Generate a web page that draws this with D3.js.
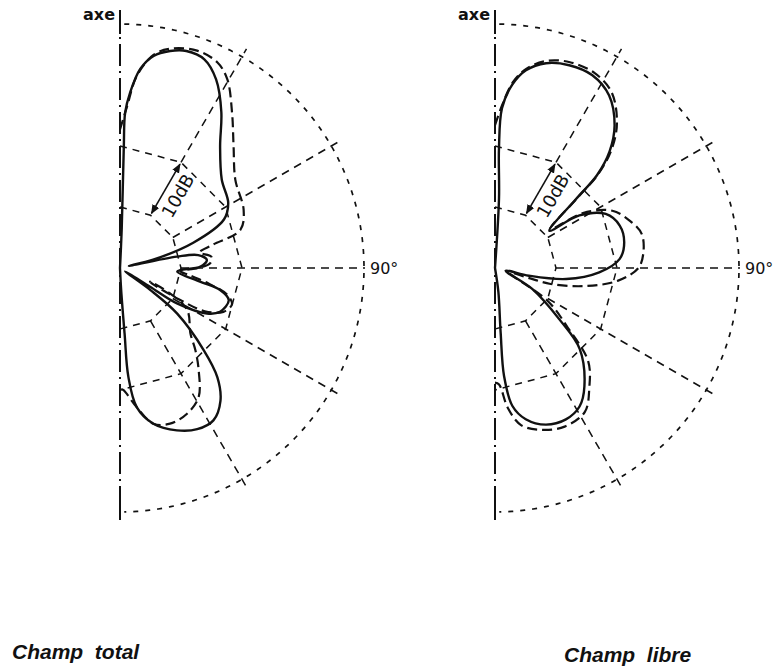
<!DOCTYPE html>
<meta charset="utf-8">
<script src="https://d3js.org/d3.v7.min.js"></script>
<style>body{margin:0;background:#fff}</style>
<svg width="781" height="667"></svg>
<script>

    // grid levels (dB), spokes (degrees from the axis)
    const gridLevels = [-30, -20, 0]
    const spokeAngles = [30, 60, 90, 120, 150]
    const titles = ["Champ total", "Champ libre"]

    // Champ total, solid curve
    const totalSolidAngle = [0, 2.5, 1.8, 1.9, 3.3, 5.8, 9, 13, 17, 22, 27, 33, 39.5, 49, 59, 65, 71, 76, 77,
        78.7, 80.6, 84.7, 89, 92, 93.7, 99.7, 102.4, 106.5, 113.6, 117.6, 121.9, 122, 124,
        126, 128.6, 134.5, 138.3, 142.9, 148.5, 154.4, 160.7, 167.9, 173.1, 175.6, 176, 177, 180]
    const totalSolidDb = [-40, -33.4, -20.2, -14.5, -11.2, -7.2, -4.8, -3.5, -2.8, -3.1, -5.3, -9.5, -14.2, -17.9, -19.3, -21.2, -27.3, -34.4, -38.5,
        -30.5, -27, -25.7, -26.8, -30.1, -30.6, -26.7, -23.2, -21.4, -22.1, -23.9, -29, -34.2, -39,
        -33.9, -28, -20.7, -16, -12.7, -10.7, -10.7, -11.8, -13.9, -17, -22.1, -29.2, -36.4, -40]

    // Champ total, dashed curve
    const totalDashedAngle = [0, 2.5, 5, 9, 13, 19.5, 25.3, 29.6, 35.8, 43, 52.6, 64.8, 72.4, 76, 79,
        83, 87, 90, 93, 96, 100, 104, 108, 113, 117, 118, 116,
        114.5, 117, 122, 133, 137.5, 142.5, 148.7, 155.3, 162.2, 167.9, 173.1, 178.5, 180]
    const totalDashedDb = [-17.3, -13.5, -8.4, -4.6, -3.1, -2.2, -2.7, -4.4, -8.6, -12.7, -16.2, -17.6, -19.3, -24.4, -26.7,
        -24.9, -25.2, -27.2, -30.1, -28.5, -25.2, -21.9, -20.7, -21.6, -24.4, -29, -34,
        -34.6, -30.8, -27, -24.2, -21.7, -18.8, -15.2, -13.7, -13.2, -13.9, -17, -20, -20.2]

    // Champ libre, solid curve
    const libreSolidAngle = [0, 3.3, 1.9, 2.5, 5.3, 8.9, 14, 20.1, 26.8, 33.5, 40, 44.5, 47.7, 49.6, 55.6,
        58.1, 64, 71.2, 78.7, 85.8, 92.4, 98.8, 102.8, 104,
        119.4, 128.6, 133.7, 142.9, 148.6, 154.9, 162, 168.5, 172.8, 175.2, 175, 172, 180]
    const libreSolidDb = [-40, -28.6, -20.4, -13.8, -9.9, -7.2, -5.4, -4.6, -4.6, -6.1, -9.5, -13.2, -17.4, -22.6, -29.2,
        -23.7, -19.8, -18.4, -18.4, -19.5, -22.9, -28.2, -34.3, -38.2,
        -33, -26.5, -20.8, -15.7, -13.4, -12.6, -13, -14.7, -17.2, -22.2, -29.4, -36, -40]

    // Champ libre, dashed curve
    const libreDashedAngle = [0, 2.5, 5.5, 9, 14, 20, 27, 33.5, 40, 44.5, 47.7, 49.6, 55,
        58, 64, 71, 77, 84.7, 90, 96, 101.4, 106, 106.5, 108,
        122, 129.4, 135, 141.8, 148, 156.3, 164, 170.6, 174.8, 178, 180]
    const libreDashedDb = [-16.6, -13.3, -9.4, -6.9, -5, -4.1, -4.1, -5.4, -8.9, -12.7, -17.1, -22.2, -29,
        -23, -18.6, -16.5, -15.3, -15.6, -16.5, -19.8, -25, -30.5, -34.4, -37.5,
        -29.8, -24.5, -18.4, -15, -12.2, -11.6, -12.4, -13.9, -17, -20.9, -21.2]

    const ink = '#111'
    const rad = a => a * Math.PI / 180

    const r = d3.scaleLinear()
        .domain([-40, 0])
        .range([0, 244])

    const svg = d3.select('svg')

    svg.append('defs').append('marker')
        .attr('id', 'head')
        .attr('viewBox', '0 0 10 10')
        .attr('refX', 9).attr('refY', 5)
        .attr('markerWidth', 6).attr('markerHeight', 6)
        .attr('orient', 'auto-start-reverse')
        .append('path')
        .attr('d', 'M0,1 L10,5 L0,9 Z')
        .attr('fill', ink)

    function zip(angles, dbs) {
        return angles.map((a, i) => ({angle: a, db: dbs[i]}))
    }

    function polarPanel(cx, cy, solid, dashed) {
        const g = svg.append('g')
            .attr('transform', 'translate(' + cx + ',' + cy + ')')

        // axis
        g.append('line')
            .attr('x1', 0).attr('x2', 0)
            .attr('y1', -r(0) - 14).attr('y2', r(0) + 4)
            .attr('stroke', ink).attr('stroke-width', 2)
            .attr('stroke-dasharray', '22,5,2,5')
        g.append('line')
            .attr('x1', 0).attr('x2', 0)
            .attr('y1', -r(0) - 14).attr('y2', -r(0) + 10)
            .attr('stroke', ink).attr('stroke-width', 2)
        g.append('line')
            .attr('x1', 0).attr('x2', 0)
            .attr('y1', r(0) - 18).attr('y2', r(0) + 8)
            .attr('stroke', ink).attr('stroke-width', 2)

        g.append('text')
            .attr('x', -5).attr('y', -r(0) - 4)
            .attr('text-anchor', 'end')
            .style('font-family', 'DejaVu Sans').style('font-weight', 'bold').style('font-size', '16px')
            .attr('fill', ink)
            .text('axe')

        // inner rings, drawn as chords between the spokes
        const chord = d3.range(0, 181, 30)
        gridLevels.filter(lv => lv < 0).forEach(lv => {
            g.append('path')
                .attr('d', d3.lineRadial().angle(a => rad(a)).radius(() => r(lv))(chord))
                .attr('fill', 'none').attr('stroke', ink).attr('stroke-width', 1.5)
                .attr('stroke-dasharray', '7,6')
        })

        // outer ring
        g.append('path')
            .attr('d', d3.lineRadial().angle(a => rad(a)).radius(r(0))(d3.range(1, 180, 1)))
            .attr('fill', 'none').attr('stroke', ink).attr('stroke-width', 1.7)
            .attr('stroke-dasharray', '5,7')

        // spokes
        spokeAngles.forEach(a => {
            const r0 = a === 30 ? r(-20) : r(-30)
            const r1 = a === 90 ? r(0) + 1 : r(0) + 9
            g.append('line')
                .attr('x1', r0 * Math.sin(rad(a))).attr('y1', -r0 * Math.cos(rad(a)))
                .attr('x2', r1 * Math.sin(rad(a))).attr('y2', -r1 * Math.cos(rad(a)))
                .attr('stroke', ink).attr('stroke-width', 1.5)
                .attr('stroke-dasharray', '8,6')
        })

        g.append('text')
            .attr('x', r(0) + 6).attr('y', 6)
            .style('font-family', 'DejaVu Sans').style('font-size', '16px')
            .attr('fill', ink)
            .text('90°')

        // 10 dB arrow along the 30 degree spoke
        const a30 = rad(30)
        g.append('line')
            .attr('x1', (r(-30) + 2) * Math.sin(a30)).attr('y1', -(r(-30) + 2) * Math.cos(a30))
            .attr('x2', (r(-20) - 2) * Math.sin(a30)).attr('y2', -(r(-20) - 2) * Math.cos(a30))
            .attr('stroke', ink).attr('stroke-width', 1.6)
            .attr('marker-start', 'url(#head)').attr('marker-end', 'url(#head)')

        const mid = r(-25)
        g.append('text')
            .attr('transform', 'translate(' + (mid * Math.sin(a30) + 14 * Math.cos(a30)) + ',' +
                (-mid * Math.cos(a30) + 14 * Math.sin(a30)) + ') rotate(-60)')
            .attr('text-anchor', 'middle').attr('dy', '0.35em')
            .style('font-family', 'DejaVu Sans').style('font-size', '18px')
            .attr('fill', ink)
            .text('10dB')

        // radiation patterns
        const pattern = d3.lineRadial()
            .angle(d => rad(d.angle))
            .radius(d => r(d.db))
            .curve(d3.curveCatmullRom.alpha(0.5))

        g.append('path')
            .attr('d', pattern(dashed))
            .attr('fill', 'none').attr('stroke', ink).attr('stroke-width', 2.2)
            .attr('stroke-dasharray', '10,5')

        g.append('path')
            .attr('d', pattern(solid))
            .attr('fill', 'none').attr('stroke', ink).attr('stroke-width', 2.4)
            .attr('stroke-linejoin', 'round')
    }

    polarPanel(120, 268, zip(totalSolidAngle, totalSolidDb), zip(totalDashedAngle, totalDashedDb))
    polarPanel(495, 268, zip(libreSolidAngle, libreSolidDb), zip(libreDashedAngle, libreDashedDb))

    svg.selectAll('text.title')
        .data(titles)
        .enter().append('text')
        .attr('class', 'title')
        .attr('x', (d, i) => i === 0 ? 12 : 564)
        .attr('y', (d, i) => i === 0 ? 659 : 662)
        .style('font-family', 'Liberation Sans').style('font-weight', 'bold')
        .style('font-style', 'italic').style('font-size', '21px')
        .attr('fill', ink)
        .attr('xml:space', 'preserve')
        .text(d => d.replace(' ', '  '))

</script>
